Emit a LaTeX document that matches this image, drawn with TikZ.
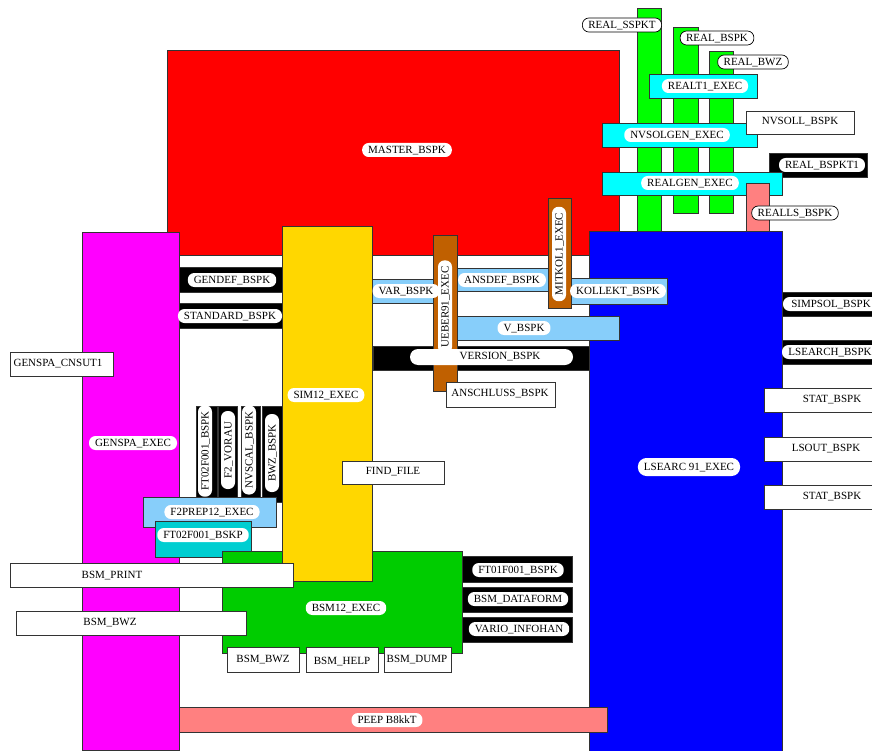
\documentclass[tikz,border=0pt]{standalone}
\usepackage{fontspec}
\setmainfont{Liberation Serif}
\definecolor{cred}{RGB}{255,0,0}
\definecolor{cmag}{RGB}{255,0,255}
\definecolor{cyel}{RGB}{255,215,0}
\definecolor{cblue}{RGB}{0,0,255}
\definecolor{clime}{RGB}{0,255,0}
\definecolor{cgreen}{RGB}{0,204,0}
\definecolor{ccyan}{RGB}{0,255,255}
\definecolor{cturq}{RGB}{0,206,209}
\definecolor{clblue}{RGB}{135,206,250}
\definecolor{cbrown}{RGB}{192,96,0}
\definecolor{cpink}{RGB}{255,128,128}
\begin{document}
\begin{tikzpicture}[x=1pt,y=-1pt,
  every node/.style={font=\fontsize{11}{13}\selectfont},
  box/.style={draw=black!80,line width=0.8pt},
  pill/.style={fill=white,rounded corners=6.5pt,inner xsep=6pt,inner ysep=0pt,minimum height=14pt,text height=8pt,text depth=1pt},
  pillb/.style={pill,draw=black,line width=0.7pt},
  vpill/.style={pill,rotate=90,minimum width=78pt},
  txt/.style={inner sep=0pt}]
\useasboundingbox (0,0) rectangle (872,751);
\fill[white] (0,0) rectangle (872,751);
% tall green bars
\path[box,fill=clime] (637,8) rectangle (661,233);
\path[box,fill=clime] (673,27) rectangle (698,213);
\path[box,fill=clime] (709,51) rectangle (733,213);
% master
\path[box,fill=cred] (167,50) rectangle (619,255);
% left black bars
\path[box,fill=black] (175,267) rectangle (282,292);
\path[box,fill=black] (175,303) rectangle (282,328);
% version black bar
\path[box,fill=black] (373,346) rectangle (595,370);
% var / ansdef
\path[box,fill=clblue] (372,279) rectangle (440,303);
\path[box,fill=clblue] (440,268) rectangle (549,291);
% magenta
\path[box,fill=cmag] (82,232) rectangle (179,750);
% vertical black bars
\path[box,fill=black] (196,406) rectangle (217,500);
\path[box,fill=black] (218,406) rectangle (237,500);
\path[box,fill=black] (241,406) rectangle (260,500);
\path[box,fill=black] (262,406) rectangle (282,502);
\path[box,fill=clblue] (143,497) rectangle (276,527);
\path[box,fill=cturq] (155,521) rectangle (251,557);
% bottom-right black bars
\path[box,fill=black] (455,556) rectangle (572,582);
\path[box,fill=black] (455,587) rectangle (572,612);
\path[box,fill=black] (455,617) rectangle (572,642);
% BSM12
\path[box,fill=cgreen] (222,551) rectangle (462,653);
% SIM12
\path[box,fill=cyel] (282,226) rectangle (372,581);
% blue
\path[box,fill=cblue] (589,231) rectangle (782,751);
% light blue over blue
\path[box,fill=clblue] (450,316) rectangle (619,340);
\path[box,fill=clblue] (565,278) rectangle (667,304);
% brown bars
\path[box,fill=cbrown] (433,235) rectangle (457,391);
\path[box,fill=cbrown] (548,198) rectangle (571,308);
% white boxes
\path[box,fill=white] (446,382) rectangle (555,407);
\path[box,fill=white] (342,461) rectangle (444,484);
\path[box,fill=white] (10,352) rectangle (113,376);
\path[box,fill=white] (10,563) rectangle (293,587);
\path[box,fill=white] (16,611) rectangle (246,635);
\path[box,fill=white] (227,647) rectangle (299,672);
\path[box,fill=white] (306,647) rectangle (378,672);
\path[box,fill=white] (384,647) rectangle (451,672);
% pink bottom
\path[box,fill=cpink] (179,707) rectangle (607,732);
% top right cluster
\path[box,fill=ccyan] (649,74) rectangle (757,98);
\path[box,fill=ccyan] (602,123) rectangle (757,147);
\path[box,fill=white] (746,111) rectangle (854,134);
\path[box,fill=black] (769,153) rectangle (867,177);
\path[box,fill=ccyan] (602,172) rectangle (782,195);
\path[box,fill=cpink] (746,183) rectangle (769,231);
% right side
\path[box,fill=black] (782,292) rectangle (874,316);
\path[box,fill=black] (782,340) rectangle (874,364);
\path[box,fill=white] (764,388) rectangle (874,412);
\path[box,fill=white] (764,437) rectangle (874,461);
\path[box,fill=white] (764,485) rectangle (874,509);

% labels
\node[pill] (master) at (407,150) {MASTER\_BSPK};
\node[pillb] (realsspkt) at (622,25) {REAL\_SSPKT};
\node[pillb] (realbspk) at (717,38) {REAL\_BSPK};
\node[pillb] (realbwz) at (753,62) {REAL\_BWZ};
\node[pill] (realt1) at (705,86) {REALT1\_EXEC};
\node[pill] (nvsolgen) at (677,135) {NVSOLGEN\_EXEC};
\node[txt] (nvsoll) at (800,122) {NVSOLL\_BSPK};
\node[pill] (realbspkt1) at (822,165) {REAL\_BSPKT1};
\node[pill] (realgen) at (690,183) {REALGEN\_EXEC};
\node[pillb] (reallsbspk) at (795,213) {REALLS\_BSPK};
\node[pill] (gendef) at (232,280) {GENDEF\_BSPK};
\node[pill] (standard) at (230,316) {STANDARD\_BSPK};
\node[pill] (varbspk) at (406,291) {VAR\_BSPK};
\node[pill] (sim12) at (326,395) {SIM12\_EXEC};
\node[pill] (ansdef) at (502,280) {ANSDEF\_BSPK};
\node[pill] (kollekt) at (618,291) {KOLLEKT\_BSPK};
\node[pill] (vbspk) at (524,328) {V\_BSPK};
\fill[white,rounded corners=8pt] (410,349) rectangle (573,365);
\node[txt] (version) at (500,357) {VERSION\_BSPK};
\node[vpill,minimum width=91pt] (ueber91) at (445,307) {UEBER91\_EXEC};
\node[vpill,minimum width=92pt] (mitkol1) at (559,254) {MITKOL1\_EXEC};
\node[txt] (anschluss) at (500,394) {ANSCHLUSS\_BSPK};
\node[vpill] (ft02bspk) at (205,451) {FT02F001\_BSPK};
\node[vpill] (f2vorau) at (228,450) {F2\_VORAU};
\node[vpill] (nvscal) at (249,450) {NVSCAL\_BSPK};
\node[vpill] (bwzbspk) at (272,453) {BWZ\_BSPK};
\node[pill] (f2prep12) at (212,512) {F2PREP12\_EXEC};
\node[pill] (ft02bskp) at (203,535) {FT02F001\_BSKP};
\node[txt] (findfile) at (393,472) {FIND\_FILE};
\node[txt] (genspacnsut1) at (58,364) {GENSPA\_CNSUT1};
\node[pill] (genspaexec) at (133,443) {GENSPA\_EXEC};
\node[txt] (bsmprint) at (112,576) {BSM\_PRINT};
\node[txt] (bsmbwzl) at (110,623) {BSM\_BWZ};
\node[pill] (bsm12) at (346,608) {BSM12\_EXEC};
\node[txt] (bsmbwzb) at (263,660) {BSM\_BWZ};
\node[txt] (bsmhelp) at (342,662) {BSM\_HELP};
\node[txt] (bsmdump) at (417,660) {BSM\_DUMP};
\node[pill] (ft01) at (518,570) {FT01F001\_BSPK};
\node[pill] (dataform) at (518,599) {BSM\_DATAFORM};
\node[pill] (vario) at (519,629) {VARIO\_INFOHAN};
\node[pill] (peep) at (387,720) {PEEP B8kkT};
\node[pill,minimum width=96pt] (simpsol) at (831,304) {SIMPSOL\_BSPK};
\node[pill,minimum width=96pt] (lsearch) at (830,352) {LSEARCH\_BSPK};
\node[txt] (stat1) at (832,400) {STAT\_BSPK};
\node[txt] (lsout) at (826,449) {LSOUT\_BSPK};
\node[txt] (stat2) at (832,497) {STAT\_BSPK};
\node[pill,minimum height=18pt,rounded corners=8.5pt] (lsearc) at (689,467) {LSEARC 91\_EXEC};
\end{tikzpicture}
\end{document}
